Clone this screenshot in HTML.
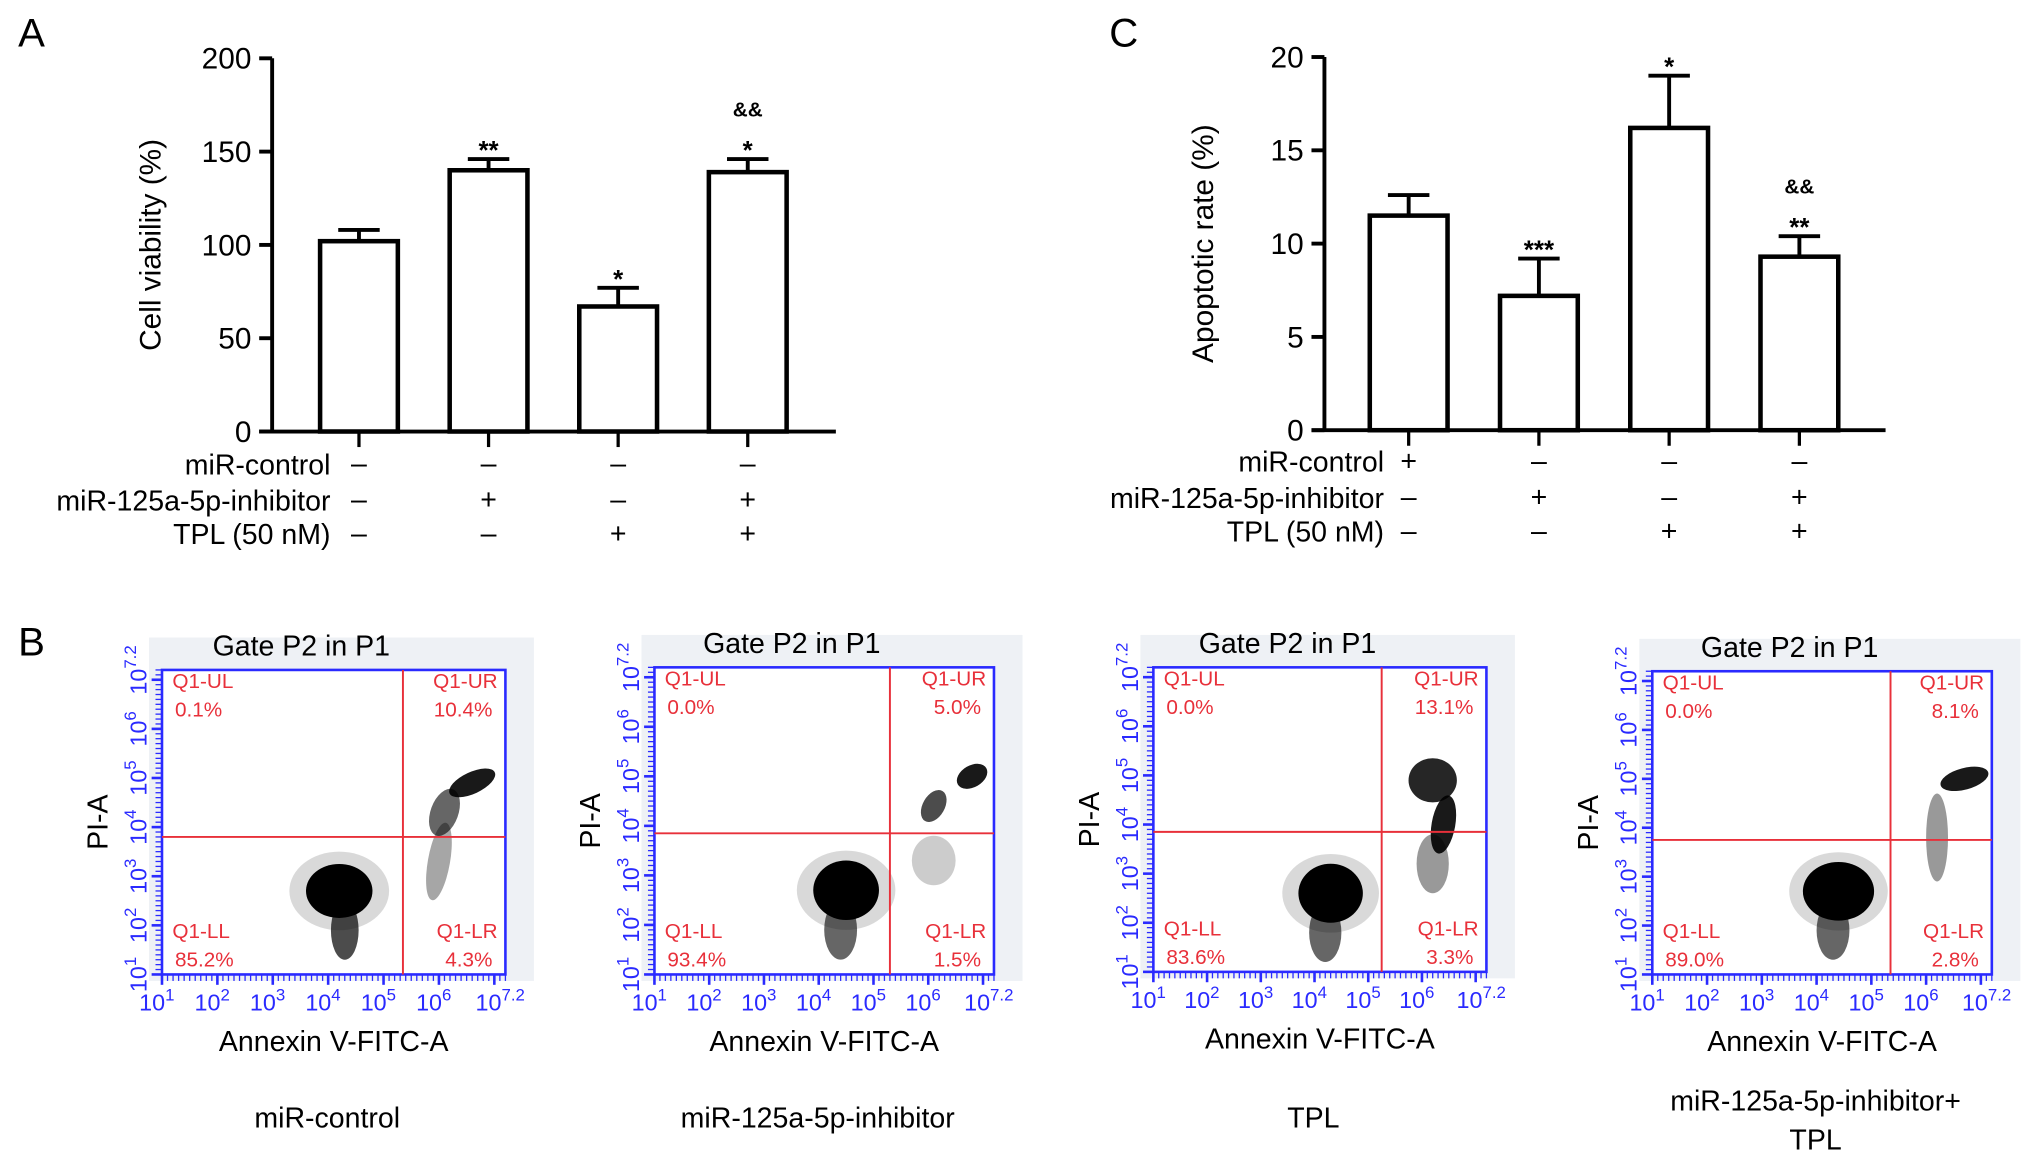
<!DOCTYPE html>
<html><head><meta charset="utf-8"><style>
html,body{margin:0;padding:0;background:#fff;}
svg{display:block;font-family:"Liberation Sans",Arial,sans-serif;}
</style></head><body>
<svg id="fig" width="2032" height="1163" viewBox="0 0 1568 897.5" preserveAspectRatio="none">
<text x="14" y="36" font-size="31">A</text>
<text x="856" y="36" font-size="31">C</text>
<text x="14" y="506" font-size="31">B</text>
<g id="ga"></g>
<g id="gc"></g>
<g id="gb"></g>
</svg>
<script>
// Panel A data
const aValues = [102, 140, 67, 139];
const aErrors = [6, 6, 10, 7];
const aTicks = [0, 50, 100, 150, 200];
const aSig = [[], ["**"], ["*"], ["&&", "*"]];
// Panel C data
const cValues = [11.5, 7.2, 16.2, 9.3];
const cErrors = [1.1, 2.0, 2.8, 1.1];
const cTicks = [0, 5, 10, 15, 20];
const cSig = [[], ["***"], ["*"], ["&&", "**"]];
const rowLabels = ["miR-control", "miR-125a-5p-inhibitor", "TPL (50 nM)"];
const aRows = [["–","–","–","–"],["–","+","–","+"],["–","–","+","+"]];
const cRows = [["+","–","–","–"],["–","+","–","+"],["–","–","+","+"]];
// Panel B data
const bTitles = ["miR-control", "miR-125a-5p-inhibitor", "TPL", "miR-125a-5p-inhibitor+|TPL"];
const bQuads = [["0.1%","10.4%","85.2%","4.3%"],["0.0%","5.0%","93.4%","1.5%"],["0.0%","13.1%","83.6%","3.3%"],["0.0%","8.1%","89.0%","2.8%"]];
const bGateX = [5.35, 5.3, 5.25, 5.35];
const bGateY = [3.8, 3.85, 3.85, 3.75];
// clusters: [log x, log y, log rx, log ry, opacity, angle]
const bClusters = [
 [[4.2,2.7,0.9,0.8,0.15,0],[4.2,2.7,0.6,0.55,1,0],[4.3,1.9,0.25,0.6,0.7,0],[6.6,4.9,0.45,0.22,0.9,-25],[6.1,4.3,0.25,0.5,0.6,20],[6.0,3.3,0.2,0.8,0.35,10]],
 [[4.5,2.7,0.9,0.8,0.15,0],[4.5,2.7,0.6,0.6,1,0],[4.4,1.9,0.3,0.6,0.6,0],[6.8,5.0,0.3,0.22,0.9,-30],[6.1,4.4,0.2,0.35,0.7,30],[6.1,3.3,0.4,0.5,0.2,0]],
 [[4.3,2.6,0.9,0.8,0.15,0],[4.3,2.6,0.6,0.6,1,0],[4.2,1.8,0.3,0.6,0.6,0],[6.2,4.9,0.45,0.45,0.85,0],[6.4,4.0,0.22,0.6,0.9,10],[6.2,3.2,0.3,0.6,0.4,0]],
 [[4.4,2.7,0.9,0.8,0.15,0],[4.4,2.7,0.65,0.6,1,0],[4.3,1.9,0.3,0.6,0.6,0],[6.7,5.0,0.45,0.22,0.9,-15],[6.2,3.8,0.2,0.9,0.4,0]]
];
const bxLabels = ["1","2","3","4","5","6","7.2"];
const NS="http://www.w3.org/2000/svg";
function mk(tag, attrs, parent, txt){const e=document.createElementNS(NS,tag);for(const k in attrs)e.setAttribute(k,attrs[k]);if(txt!==undefined)e.textContent=txt;parent.appendChild(e);return e;}

function barChart(g, vals, errs, ticks, sig, rows, o){
  const y = v => o.y0 - (v - 0) / (o.max) * (o.y0 - o.y1);
  const x = i => o.xs + i * o.step;
  let e;
  e=mk('line',{x1:o.ax,y1:o.y1,x2:o.ax,y2:o.y0,stroke:'#000','stroke-width':3},g);
  
  e=mk('line',{x1:o.ax-10,y1:o.y0,x2:o.xe,y2:o.y0,stroke:'#000','stroke-width':3},g);
  
  ticks.forEach(t=>{
    e=mk('line',{x1:o.ax-10,y1:y(t),x2:o.ax,y2:y(t),stroke:'#000','stroke-width':3},g);
    
    e=mk('text',{x:o.ax-16,y:y(t)+8,'font-size':23,'text-anchor':'end'},g,String(t));
    
  });
  e=mk('text',{transform:`translate(${o.ax-86},${(o.y0+o.y1)/2}) rotate(-90)`,'font-size':23,'text-anchor':'middle'},g,o.title);
  
  vals.forEach((v,i)=>{
    const cx=x(i), w=60;
    e=mk('line',{x1:cx,y1:y(v),x2:cx,y2:y(v+errs[i]),stroke:'#000','stroke-width':3},g);
    
    e=mk('line',{x1:cx-16,y1:y(v+errs[i]),x2:cx+16,y2:y(v+errs[i]),stroke:'#000','stroke-width':3},g);
    
    e=mk('rect',{x:cx-w/2,y:y(v),width:w,height:o.y0-y(v),fill:'#fff',stroke:'#000','stroke-width':3.5},g);
    
    e=mk('line',{x1:cx,y1:o.y0,x2:cx,y2:o.y0+12,stroke:'#000','stroke-width':2.5},g);
    
    const top=y(v+errs[i]);
    sig[i].slice().reverse().forEach((s,k)=>{
      e=mk('text',{x:cx,y:top-8-k*25+(s[0]=='*'?8:0),'font-size':s[0]=='*'?20:16,'text-anchor':'middle','font-weight':'bold'},g,s);
      
    });
    rows.forEach((r,j)=>{
      e=mk('text',{x:cx,y:o.ry[j]+7,'font-size':22,'text-anchor':'middle'},g,r[i]);
      
    });
  });
  rowLabels.forEach((l,j)=>{
    e=mk('text',{x:o.lx,y:o.ry[j]+8,'font-size':22,'text-anchor':'end'},g,l);
    
  });
}
barChart(document.getElementById('ga'),aValues,aErrors,aTicks,aSig,aRows,{ax:210,xe:645,y0:333,y1:45,max:200,xs:277,step:100,lx:255,ry:[358,386,412],title:'Cell viability (%)'});
barChart(document.getElementById('gc'),cValues,cErrors,cTicks,cSig,cRows,{ax:1022,xe:1455,y0:332,y1:44,max:20,xs:1087,step:100.5,lx:1068,ry:[356,384,410],title:'Apoptotic rate (%)'});

const gb=document.getElementById('gb');
const boxes=[[125,517,265,235],[505,515,262,237],[890,515,257,235],[1275,518,262,234]];
boxes.forEach((b,p)=>{
  const [x0,y0,w,h]=b;
  const X=l=>x0+(l-1)/6.2*w, Y=l=>y0+h-(l-1)/6.2*h;
  const g=mk('g',{},gb);
  
  let e=mk('rect',{x:x0-10,y:y0-25,width:w+32,height:h+30,fill:'#eef1f5'},g);
  
  e=mk('rect',{x:x0,y:y0,width:w,height:h,fill:'#fff',stroke:'#2a2aff','stroke-width':2},g);
  
  bClusters[p].forEach(c=>{
    const cx=X(c[0]), cy=Y(c[1]);
    e=mk('ellipse',{cx:cx,cy:cy,rx:c[2]/6.2*w,ry:c[3]/6.2*h,fill:'#000',opacity:c[4],transform:`rotate(${c[5]} ${cx} ${cy})`},g);
    
  });
  e=mk('line',{x1:X(bGateX[p]),y1:y0,x2:X(bGateX[p]),y2:y0+h,stroke:'#e8303a','stroke-width':1.5},g);
  
  e=mk('line',{x1:x0,y1:Y(bGateY[p]),x2:x0+w,y2:Y(bGateY[p]),stroke:'#e8303a','stroke-width':1.5},g);
  
  const q=bQuads[p], red='#e8303a';
  [['Q1-UL',q[0],x0+8,y0+14,'start'],['Q1-UR',q[1],x0+w-6,y0+14,'end'],['Q1-LL',q[2],x0+8,y0+h-28,'start'],['Q1-LR',q[3],x0+w-6,y0+h-28,'end']].forEach(t=>{
    e=mk('text',{x:t[2],y:t[3],'font-size':16,fill:red,'text-anchor':t[4]},g,t[0]);
    
    e=mk('text',{x:t[2]+(t[4]=='start'?2:-4),y:t[3]+22,'font-size':16,fill:red,'text-anchor':t[4]},g,t[1]);
    
  });
  for(let d=1;d<7.2;d+=0.1){
    const major=Math.abs(d-Math.round(d))<0.01;
    e=mk('line',{x1:X(d),y1:y0+h,x2:X(d),y2:y0+h+(major?8:5),stroke:'#2a2aff','stroke-width':major?2:1},g);
    
    e=mk('line',{x1:x0,y1:Y(d),x2:x0-(major?8:5),y2:Y(d),stroke:'#2a2aff','stroke-width':major?2:1},g);
    
  }
  bxLabels.forEach(l=>{
    const v=parseFloat(l);
    e=mk('text',{x:X(v)-4,y:y0+h+28,'font-size':18,fill:'#2a2aff','text-anchor':'middle'},g);
    
    e.innerHTML='10<tspan dy="-8" font-size="13">'+l+'</tspan>';
    e=mk('text',{transform:`translate(${x0-12},${Y(v)}) rotate(-90)`,'font-size':18,fill:'#2a2aff','text-anchor':'middle'},g);
    
    e.innerHTML='10<tspan dy="-8" font-size="13">'+l+'</tspan>';
  });
  e=mk('text',{x:x0+w/2-25,y:y0-11,'font-size':22,'text-anchor':'middle'},g,'Gate P2 in P1');
  
  e=mk('text',{x:x0+w/2,y:y0+h+59,'font-size':22,'text-anchor':'middle'},g,'Annexin V-FITC-A');
  
  e=mk('text',{transform:`translate(${x0-42},${y0+h/2}) rotate(-90)`,'font-size':22,'text-anchor':'middle'},g,'PI-A');
  
  const parts=bTitles[p].split('|');
  parts.forEach((s,k)=>{
    e=mk('text',{x:x0+w/2-5,y:(parts.length>1?857:870)+k*30,'font-size':22,'text-anchor':'middle'},g,s);
    
  });
});
</script>
</body></html>
